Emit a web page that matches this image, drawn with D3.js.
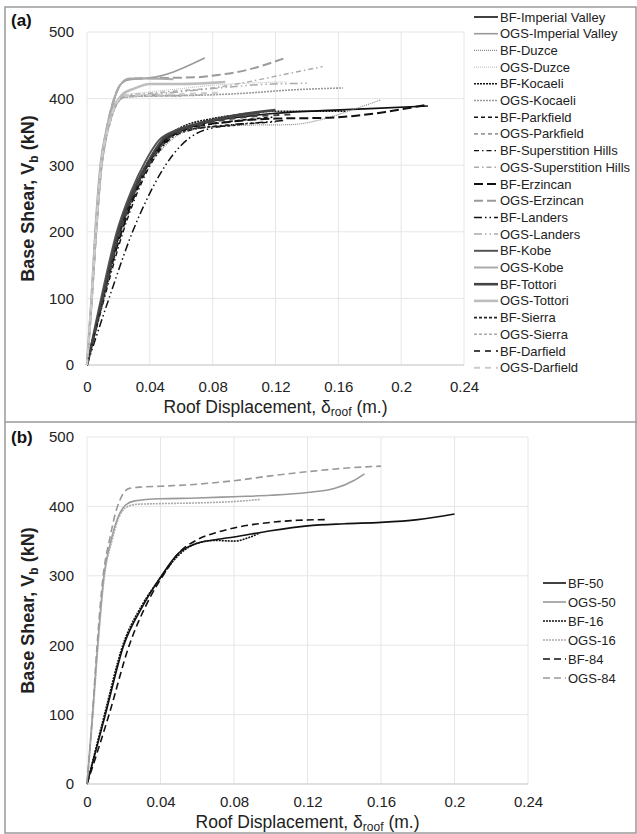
<!DOCTYPE html>
<html>
<head>
<meta charset="utf-8">
<script src="https://d3js.org/d3.v7.min.js"></script>
<style>
  body { margin: 0; background: white; }
  text { font-family: "Liberation Sans", Arial, sans-serif; }
</style>
</head>
<body>
<div id="chart"></div>
<script>
// ---- data: [roof displacement (m), base shear (kN)] ----
var xTicks = [0, 0.04, 0.08, 0.12, 0.16, 0.2, 0.24];
var yTicks = [0, 100, 200, 300, 400, 500];

// panel (a) - individual ground motions
var bfImperialValley = [[0,0],[0.01,100],[0.021,200],[0.03,260],[0.04,305],[0.05,338],[0.06,352],[0.07,360],[0.08,366],[0.1,373],[0.12,378],[0.15,382],[0.18,385],[0.217,389]];
var ogsImperialValley = [[0,0],[0.003,100],[0.006,200],[0.009,290],[0.013,350],[0.017,395],[0.021,420],[0.026,428],[0.035,430],[0.045,433],[0.055,440],[0.065,450],[0.075,461]];
var bfDuzce = [[0,0],[0.011,100],[0.022,200],[0.031,260],[0.04,300],[0.05,330],[0.06,348],[0.075,357],[0.1,360],[0.13,361],[0.15,369],[0.17,384],[0.187,398]];
var ogsDuzce = [[0,0],[0.003,100],[0.0055,200],[0.009,300],[0.014,360],[0.019,395],[0.024,405],[0.04,410],[0.06,415],[0.08,420],[0.1,423],[0.127,425]];
var bfKocaeli = [[0,0],[0.0095,100],[0.02,200],[0.03,265],[0.04,310],[0.05,342],[0.06,357],[0.08,370],[0.1,377],[0.12,381],[0.14,381],[0.165,381]];
var ogsKocaeli = [[0,0],[0.0032,100],[0.0058,200],[0.009,300],[0.014,360],[0.019,392],[0.024,402],[0.04,404],[0.07,405],[0.1,408],[0.13,413],[0.163,416]];
var bfParkfield = [[0,0],[0.01,100],[0.021,200],[0.032,270],[0.042,315],[0.05,340],[0.06,352],[0.08,362],[0.1,368],[0.118,372]];
var ogsParkfield = [[0,0],[0.0031,100],[0.0057,200],[0.0092,300],[0.0142,362],[0.0195,394],[0.024,403],[0.04,405],[0.06,404]];
var bfSuperstition = [[0,0],[0.011,100],[0.023,200],[0.035,275],[0.045,318],[0.055,343],[0.065,352],[0.08,358],[0.1,362],[0.12,365]];
var ogsSuperstition = [[0,0],[0.0029,100],[0.0054,200],[0.0088,300],[0.0135,360],[0.0185,395],[0.024,405],[0.04,408],[0.06,412],[0.08,416],[0.1,424],[0.125,436],[0.15,448]];
var bfErzincan = [[0,0],[0.01,100],[0.022,200],[0.033,270],[0.043,315],[0.055,345],[0.07,358],[0.09,365],[0.12,370],[0.15,371],[0.17,374],[0.19,380],[0.205,386],[0.215,390]];
var ogsErzincan = [[0,0],[0.003,100],[0.0055,200],[0.009,300],[0.013,360],[0.018,405],[0.022,423],[0.028,430],[0.05,431],[0.07,432],[0.085,436],[0.1,442],[0.115,452],[0.125,460]];
var bfLanders = [[0,0],[0.014,100],[0.029,200],[0.04,258],[0.05,300],[0.06,330],[0.07,348],[0.09,360],[0.11,364],[0.125,367]];
var ogsLanders = [[0,0],[0.0033,100],[0.006,200],[0.0094,300],[0.0145,362],[0.0195,394],[0.024,402],[0.05,408],[0.08,415],[0.11,421],[0.14,423]];
var bfKobe = [[0,0],[0.009,100],[0.019,200],[0.028,260],[0.037,305],[0.046,338],[0.056,352],[0.07,362],[0.09,372],[0.11,378]];
var ogsKobe = [[0,0],[0.0028,100],[0.0052,200],[0.0085,300],[0.0125,355],[0.017,398],[0.021,420],[0.027,430],[0.04,430],[0.055,429]];
var bfTottori = [[0,0],[0.01,100],[0.02,200],[0.029,258],[0.039,305],[0.048,338],[0.058,352],[0.075,365],[0.095,375],[0.12,383]];
var ogsTottori = [[0,0],[0.003,100],[0.0056,200],[0.009,300],[0.0138,360],[0.0185,393],[0.022,405],[0.03,415],[0.04,422],[0.06,422],[0.088,425]];
var bfSierra = [[0,0],[0.0105,100],[0.021,200],[0.031,262],[0.041,310],[0.05,338],[0.06,350],[0.075,357],[0.09,359],[0.1,362]];
var ogsSierra = [[0,0],[0.0031,100],[0.0058,200],[0.0093,300],[0.0143,360],[0.0192,393],[0.024,403],[0.05,404],[0.075,406]];
var bfDarfield = [[0,0],[0.01,100],[0.021,200],[0.032,268],[0.042,312],[0.052,340],[0.065,355],[0.08,365],[0.1,372],[0.13,376]];
var ogsDarfield = [[0,0],[0.003,100],[0.0057,200],[0.0091,300],[0.014,361],[0.019,394],[0.024,404],[0.05,406],[0.085,409]];

var namesA = ["BF-Imperial Valley", "OGS-Imperial Valley", "BF-Duzce", "OGS-Duzce", "BF-Kocaeli", "OGS-Kocaeli",
  "BF-Parkfield", "OGS-Parkfield", "BF-Superstition Hills", "OGS-Superstition Hills", "BF-Erzincan", "OGS-Erzincan",
  "BF-Landers", "OGS-Landers", "BF-Kobe", "OGS-Kobe", "BF-Tottori", "OGS-Tottori", "BF-Sierra", "OGS-Sierra",
  "BF-Darfield", "OGS-Darfield"];
var seriesA = [bfImperialValley, ogsImperialValley, bfDuzce, ogsDuzce, bfKocaeli, ogsKocaeli, bfParkfield, ogsParkfield,
  bfSuperstition, ogsSuperstition, bfErzincan, ogsErzincan, bfLanders, ogsLanders, bfKobe, ogsKobe, bfTottori, ogsTottori,
  bfSierra, ogsSierra, bfDarfield, ogsDarfield];

// panel (b) - percentiles
var bf50 = [[0,0],[0.01,100],[0.02,200],[0.03,255],[0.04,298],[0.05,333],[0.06,347],[0.07,352],[0.08,356],[0.1,365],[0.12,372],[0.14,375],[0.16,377],[0.18,381],[0.2,389]];
var ogs50 = [[0,0],[0.003,100],[0.0058,200],[0.0092,300],[0.013,350],[0.017,385],[0.021,402],[0.026,408],[0.04,411],[0.06,412],[0.08,414],[0.1,416],[0.12,420],[0.135,426],[0.145,437],[0.151,447]];
var bf16 = [[0,0],[0.0095,100],[0.0195,200],[0.03,258],[0.04,297],[0.05,330],[0.06,347],[0.07,351],[0.08,350],[0.088,355],[0.094,362]];
var ogs16 = [[0,0],[0.0032,100],[0.006,200],[0.0095,300],[0.0135,350],[0.0175,385],[0.021,398],[0.027,403],[0.04,404],[0.06,405],[0.08,407],[0.094,410]];
var bf84 = [[0,0],[0.012,100],[0.023,200],[0.033,262],[0.042,303],[0.05,333],[0.06,352],[0.07,362],[0.08,369],[0.1,377],[0.115,380],[0.13,381]];
var ogs84 = [[0,0],[0.003,100],[0.0055,200],[0.0088,300],[0.0125,355],[0.016,395],[0.019,415],[0.023,426],[0.03,428],[0.04,429],[0.06,432],[0.08,437],[0.1,444],[0.12,450],[0.14,455],[0.16,458]];

var namesB = ["BF-50", "OGS-50", "BF-16", "OGS-16", "BF-84", "OGS-84"];
var seriesB = [bf50, ogs50, bf16, ogs16, bf84, ogs84];

// line styles, one per legend entry
var stylesA = [
  {c: "#111", w: 1.6, d: null}, {c: "#9a9a9a", w: 1.6, d: null},
  {c: "#888", w: 1.2, d: "1,1"}, {c: "#c4c4c4", w: 1.2, d: "1,1"},
  {c: "#111", w: 1.6, d: "2,1"}, {c: "#9a9a9a", w: 1.6, d: "2,1"},
  {c: "#111", w: 1.6, d: "4,3"}, {c: "#9a9a9a", w: 1.6, d: "4,3"},
  {c: "#111", w: 1.4, d: "5,3,1.5,3"}, {c: "#aaa", w: 1.4, d: "5,3,1.5,3"},
  {c: "#111", w: 2, d: "9,4"}, {c: "#9a9a9a", w: 2, d: "9,4"},
  {c: "#111", w: 1.5, d: "8,3,1.5,3,1.5,3"}, {c: "#aaa", w: 1.5, d: "8,3,1.5,3,1.5,3"},
  {c: "#555", w: 2, d: null}, {c: "#aaa", w: 2, d: null},
  {c: "#444", w: 2.6, d: null}, {c: "#bdbdbd", w: 2.6, d: null},
  {c: "#222", w: 1.6, d: "3,2"}, {c: "#aaa", w: 1.6, d: "3,2"},
  {c: "#444", w: 2, d: "6,5"}, {c: "#ccc", w: 2, d: "6,5"}
];
var stylesB = [
  {c: "#111", w: 1.6, d: null}, {c: "#999", w: 1.6, d: null},
  {c: "#111", w: 1.6, d: "2,1"}, {c: "#aaa", w: 1.6, d: "2,1"},
  {c: "#111", w: 1.6, d: "7,4"}, {c: "#999", w: 1.6, d: "7,4"}
];

var svg = d3.select("#chart").append("svg")
  .attr("width", 637)
  .attr("height", 834);

// outer frame and divider between panels
svg.append("rect")
  .attr("x", 5).attr("y", 7).attr("width", 631).attr("height", 826)
  .attr("fill", "none").attr("stroke", "#9a9a9a").attr("stroke-width", 1.5);
svg.append("line")
  .attr("x1", 5).attr("x2", 637).attr("y1", 422).attr("y2", 422)
  .attr("stroke", "#9a9a9a").attr("stroke-width", 1.5);

function drawPanel(p) {
  var x = d3.scaleLinear().domain([0, 0.24]).range([p.left, p.right]);
  var y = d3.scaleLinear().domain([0, 500]).range([p.bottom, p.top]);
  var g = svg.append("g");

  // gridlines
  g.selectAll(".vg").data(xTicks).enter().append("line")
    .attr("x1", d => x(d)).attr("x2", d => x(d))
    .attr("y1", y(0)).attr("y2", y(500))
    .attr("stroke", "#e6e6e6").attr("stroke-width", 1);
  g.selectAll(".hg").data(yTicks).enter().append("line")
    .attr("x1", x(0)).attr("x2", x(0.24))
    .attr("y1", d => y(d)).attr("y2", d => y(d))
    .attr("stroke", d => d === 0 ? "#d4d4d4" : "#e6e6e6").attr("stroke-width", d => d === 0 ? 1.5 : 1);

  // tick labels through d3 axes, lines hidden
  var xa = g.append("g")
    .attr("transform", "translate(0," + y(0) + ")")
    .call(d3.axisBottom(x).tickValues(xTicks).tickSize(0).tickPadding(p.xPad).tickFormat(d => String(d)));
  var ya = g.append("g")
    .attr("transform", "translate(" + x(0) + ",0)")
    .call(d3.axisLeft(y).tickValues(yTicks).tickSize(0).tickPadding(13).tickFormat(d3.format("d")));
  [xa, ya].forEach(function (a) {
    a.select(".domain").remove();
    a.selectAll("text").attr("font-size", 15).attr("fill", "#222")
      .style("font-family", "'Liberation Sans', Arial, sans-serif");
  });

  // curves
  var line = d3.line()
    .x(d => x(d[0]))
    .y(d => y(d[1]))
    .curve(d3.curveMonotoneX);
  p.series.forEach(function (s, i) {
    var st = p.styles[i];
    g.append("path")
      .attr("d", line(s))
      .attr("fill", "none")
      .attr("stroke", st.c)
      .attr("stroke-width", st.w)
      .attr("stroke-dasharray", st.d);
  });

  // axis titles
  var xt = g.append("text")
    .attr("x", (p.left + p.right) / 2)
    .attr("y", p.xTitleY)
    .attr("text-anchor", "middle")
    .attr("font-size", 17.5)
    .attr("fill", "#222");
  xt.append("tspan").text("Roof Displacement, \u03b4");
  xt.append("tspan").attr("font-size", 12).attr("dy", 3).text("roof");
  xt.append("tspan").attr("dy", -3).text(" (m.)");

  var yt = g.append("text")
    .attr("transform", "translate(" + p.titleX + "," + (p.top + p.bottom) / 2 + ") rotate(-90)")
    .attr("text-anchor", "middle")
    .attr("font-size", 18)
    .attr("font-weight", "bold")
    .attr("fill", "#222");
  yt.append("tspan").text("Base Shear, V");
  yt.append("tspan").attr("font-size", 12).attr("dy", 4).text("b");
  yt.append("tspan").attr("dy", -4).text(" (kN)");

  // panel label
  svg.append("text")
    .attr("x", 11).attr("y", p.labelY)
    .attr("font-size", 17).attr("font-weight", "bold").attr("fill", "#111")
    .text(p.label);

  // legend
  var lg = svg.append("g");
  p.names.forEach(function (n, i) {
    var st = p.styles[i];
    var ly = p.legY + i * p.legStep;
    lg.append("line")
      .attr("x1", p.legX).attr("x2", p.legX + p.legLen)
      .attr("y1", ly).attr("y2", ly)
      .attr("stroke", st.c).attr("stroke-width", st.w)
      .attr("stroke-dasharray", st.d);
    lg.append("text")
      .attr("x", p.legX + p.legLen + 2).attr("y", ly + 4.5)
      .attr("font-size", 13).attr("fill", "#222")
      .text(n);
  });
}

drawPanel({
  left: 87, right: 464, top: 32, bottom: 365, titleX: 34, label: "(a)", labelY: 26, xTitleY: 413, xPad: 16,
  series: seriesA, styles: stylesA, names: namesA,
  legX: 474, legLen: 24, legY: 17, legStep: 16.7
});
drawPanel({
  left: 87, right: 528, top: 437, bottom: 784, titleX: 34, label: "(b)", labelY: 443, xTitleY: 828, xPad: 12,
  series: seriesB, styles: stylesB, names: namesB,
  legX: 543, legLen: 23, legY: 583, legStep: 19
});
</script>
</body>
</html>
